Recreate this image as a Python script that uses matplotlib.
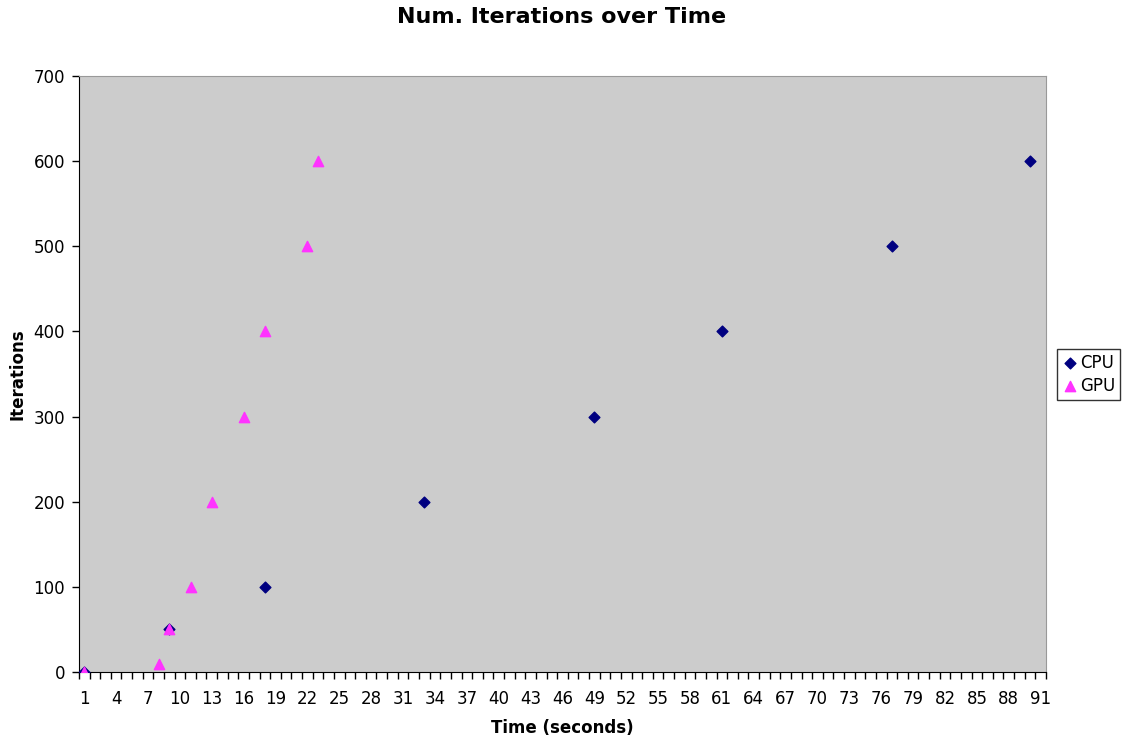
import matplotlib
matplotlib.use("agg")
import matplotlib.pyplot as plt
import numpy as np

# time in seconds (category positions) and iterations
cpu_time = [1, 9, 18, 33, 49, 61, 77, 90]
cpu_iters = [0, 50, 100, 200, 300, 400, 500, 600]
gpu_time = [1, 8, 9, 11, 13, 16, 18, 22, 23]
gpu_iters = [0, 10, 50, 100, 200, 300, 400, 500, 600]

xlabels = list(range(1, 92, 3))
ylabels = list(range(0, 701, 100))

fig = plt.figure(figsize=(11.23, 7.38), dpi=100)
ax = fig.add_axes([0.0703, 0.0894, 0.8611, 0.8076])
ax.set_facecolor('#cccccc')

ax.scatter(cpu_time, cpu_iters, marker='D', s=30, color='#000080', label='CPU', zorder=3)
ax.scatter(gpu_time, gpu_iters, marker='^', s=55, color='#ff33ff', label='GPU', zorder=4)

ax.set_xlim(0.5, 91.5)
ax.set_ylim(0, 700)

# labels at category centres, tick marks on category boundaries
ax.set_xticks(xlabels)
ax.set_xticklabels([str(v) for v in xlabels], fontsize=12)
ax.tick_params(axis='x', which='major', length=0, pad=13)
ax.set_xticks(np.arange(0.5, 92, 1), minor=True)
ax.tick_params(axis='x', which='minor', length=5, direction='out', width=1)

ax.set_yticks(ylabels)
ax.set_yticklabels([str(v) for v in ylabels], fontsize=12)
ax.tick_params(axis='y', length=5, direction='out', width=1, pad=5)

for side in ['top', 'right']:
    ax.spines[side].set_color('#999999')
for side in ['left', 'bottom']:
    ax.spines[side].set_color('black')

ax.set_xlabel('Time (seconds)', fontsize=12, fontweight='bold', labelpad=8)
ax.set_ylabel('Iterations', fontsize=12, fontweight='bold', labelpad=5)
fig.suptitle('Num. Iterations over Time', fontsize=16, fontweight='bold', y=0.99)

leg = ax.legend(loc='center left', bbox_to_anchor=(1.011, 0.5), fontsize=12,
                frameon=True, fancybox=False, edgecolor='black',
                handletextpad=0.1, handlelength=1.0, borderpad=0.3,
                labelspacing=0.3, borderaxespad=0)
leg.get_frame().set_linewidth(1)

fig.savefig('out.png', dpi=100)
